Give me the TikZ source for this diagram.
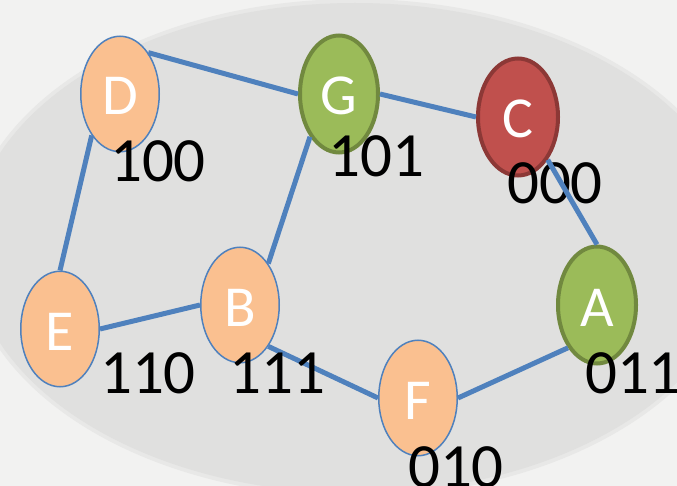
\documentclass[tikz,border=0pt]{standalone}
\usepackage{fontspec}
\setmainfont{Carlito}
\usetikzlibrary{shapes.geometric}
\definecolor{bgcol}{HTML}{F2F2F1}
\definecolor{ellcol}{HTML}{E0E0DF}
\definecolor{ringcol}{HTML}{E8E8E7}
\definecolor{edgecol}{HTML}{4F81BD}
\definecolor{orangefill}{HTML}{FAC090}
\definecolor{greenfill}{HTML}{9BBB59}
\definecolor{greenline}{HTML}{71893F}
\definecolor{redfill}{HTML}{C0504D}
\definecolor{redline}{HTML}{8C3836}
\tikzset{
  vbase/.style={ellipse, inner sep=0pt, text=white, font=\fontsize{58}{58}\selectfont,
    text height=42pt, text depth=0pt},
  vorange/.style={vbase, fill=orangefill, draw=edgecol, line width=1.5pt,
    minimum width=78.5pt, minimum height=115.5pt},
  vgreen/.style={vbase, fill=greenfill, draw=greenline, line width=4pt,
    minimum width=78pt, minimum height=117pt},
  vred/.style={vbase, fill=redfill, draw=redline, line width=4pt,
    minimum width=80pt, minimum height=117pt},
  code/.style={anchor=base, inner sep=0pt, text=black, font=\fontsize{63}{63}\selectfont},
  conn/.style={draw=edgecol, line width=5pt}
}
\begin{document}
\begin{tikzpicture}[x=1pt, y=-1pt]
\useasboundingbox (0,0) rectangle (677,486);
\clip (0,0) rectangle (677,486);
\fill[bgcol] (0,0) rectangle (677,486);
\fill[ringcol] (355,248) ellipse [x radius=389, y radius=249];
\fill[ellcol] (355,248) ellipse [x radius=385, y radius=245];
% vertices
\node[vorange] (D) at (120,94) {D};
\node[vgreen]  (G) at (339,94) {G};
\node[vred]    (C) at (518,117) {C};
\node[vorange] (E) at (60,329) {E};
\node[vorange] (B) at (240,305) {B};
\node[vorange] (F) at (418,398) {F};
\node[vgreen]  (A) at (597,305) {A};
% connectors
\begin{scope}[on background layer/.style={}]
\end{scope}
\draw[conn] (D.north east) -- (G.west);
\draw[conn] (G.east) -- (C.west);
\draw[conn] (D.south west) -- (E.north);
\draw[conn] (G.south west) -- (B.north east);
\draw[conn] (B.west) -- (E.east);
\draw[conn] (B.south east) -- (F.west);
\draw[conn] (F.east) -- (A.south west);
% codes
\node[code] (lD) at (158,182) {100};
\node[code] (lG) at (376.5,177) {101};
\node[code] (lC) at (555,204) {000};
\node[code] (lE) at (148,393) {110};
\node[code] (lB) at (277.5,393) {111};
\node[code] (lF) at (456,487) {010};
\node[code] (lA) at (633,393) {011};
\draw[conn] (C.south east) -- (A.north);
\end{tikzpicture}
\end{document}
